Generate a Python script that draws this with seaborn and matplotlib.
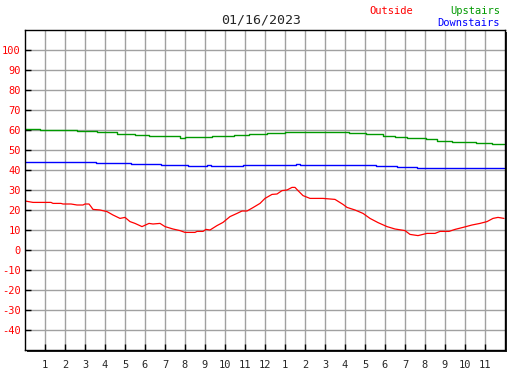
import matplotlib
matplotlib.use("Agg")
import matplotlib.pyplot as plt
from matplotlib.patches import Rectangle
import seaborn as sns

# -----------------------------
# DATA
# -----------------------------
TITLE = "01/16/2023"

out_hours = [0.0, 0.4, 1.3, 1.4, 1.8, 1.9, 2.3, 2.6, 2.9, 3.0, 3.2, 3.3, 3.4, 3.75, 4.1,
             4.4, 4.75, 5.0, 5.25, 5.5, 5.85, 6.2, 6.4, 6.75, 7.0, 7.4, 7.75, 8.0, 8.5, 8.6,
             8.9, 9.05, 9.25, 9.6, 9.9, 10.25, 10.6, 10.85, 11.1, 11.4, 11.75, 12.0, 12.35,
             12.6, 12.85, 13.1, 13.35, 13.5, 13.65, 13.9, 14.25, 14.9, 15.5, 15.9, 16.1,
             16.5, 16.9, 17.25, 17.65, 18.1, 18.5, 19.0, 19.25, 19.65, 20.1, 20.5, 20.75,
             21.2, 21.5, 21.9, 22.35, 22.75, 23.1, 23.4, 23.65, 23.95]
outside = [24.5, 23.8, 23.8, 23.3, 23.3, 23.0, 23.0, 22.5, 22.5, 23.0, 23.0, 21.7, 20.3, 20.0, 19.2,
           17.5, 15.8, 16.3, 14.2, 13.3, 11.7, 13.3, 13.0, 13.3, 11.7, 10.5, 9.7, 8.8, 8.8, 9.3,
           9.3, 10.3, 10.0, 12.2, 13.8, 16.7, 18.3, 19.5, 19.5, 21.2, 23.3, 25.8, 27.8,
           28.0, 29.7, 30.0, 31.3, 31.3, 29.7, 27.2, 25.8, 25.8, 25.3, 22.8, 21.3,
           20.0, 18.3, 15.8, 13.7, 11.7, 10.5, 9.7, 7.8, 7.2, 8.3, 8.3, 9.3,
           9.3, 10.3, 11.3, 12.5, 13.3, 14.2, 15.8, 16.3, 15.8]

up_hours = [0, 0.75, 2.6, 3.6, 4.6, 5.5, 6.2, 6.9, 7.75, 8.0, 9.35, 10.45, 11.2, 12.1,
            13.0, 16.2, 17.05, 17.9, 18.5, 19.1, 20.05, 20.6, 21.35, 22.0, 22.55, 23.35, 23.95]
upstairs = [60.3, 59.8, 59.3, 58.8, 58.2, 57.7, 57.2, 56.8, 56.0, 56.5, 57.0, 57.5, 57.8, 58.3,
            58.8, 58.3, 57.8, 57.2, 56.5, 55.8, 55.3, 54.7, 54.2, 53.8, 53.3, 52.8, 52.8]

down_hours = [0, 3.55, 5.3, 6.8, 8.15, 9.1, 9.3, 10.9, 13.55, 13.75, 17.55, 18.6, 19.6, 23.95]
downstairs = [43.8, 43.3, 42.8, 42.3, 42.0, 42.5, 42.0, 42.5, 43.0, 42.5, 42.0, 41.3, 40.8, 40.8]

x_ticks = list(range(1, 24))
x_labels = [str(h) for h in range(1, 13)] + [str(h) for h in range(1, 12)]
y_ticks = list(range(-40, 101, 10))

# -----------------------------
# FIGURE
# -----------------------------
sns.set_style("white")
plt.rcParams["font.family"] = ["DejaVu Sans Mono"]

W, H = 527, 370
fig = plt.figure(figsize=(W / 100, H / 100), dpi=100)
ax = fig.add_axes([25 / W, 20 / H, 480 / W, 320 / H])

# drop shadow behind the plot frame
fig.add_artist(Rectangle((27 / W, 18 / H), 480 / W, 320 / H, transform=fig.transFigure,
                         facecolor="#202020", edgecolor="none", zorder=-1))
ax.set_facecolor("white")

sns.lineplot(x=out_hours, y=outside, color="#ff0000", lw=0.9, ax=ax, estimator=None, sort=False)
sns.lineplot(x=up_hours, y=upstairs, color="#009900", lw=1.0, ax=ax, estimator=None,
             sort=False, drawstyle="steps-post")
sns.lineplot(x=down_hours, y=downstairs, color="#0000ff", lw=1.0, ax=ax, estimator=None,
             sort=False, drawstyle="steps-post")

ax.set_xlim(0, 24)
ax.set_ylim(-50, 110)
ax.set_xticks(x_ticks)
ax.set_xticklabels(x_labels, fontsize=7.5)
ax.set_yticks(y_ticks)
ax.set_yticklabels([str(v) for v in y_ticks], fontsize=7.5, color="#ff0000")

ax.grid(True, color="#a0a0a0", lw=1)
ax.set_axisbelow(True)
ax.tick_params(axis="both", direction="in", length=4, width=1, color="black")
ax.tick_params(axis="x", pad=7, bottom=True)
ax.tick_params(axis="y", pad=3, left=True)
for s in ax.spines.values():
    s.set_color("black")
    s.set_linewidth(1.0)

fig.text(261 / W, 1 - 20 / H, TITLE, ha="center", va="center", fontsize=9.5)
fig.text(369 / W, 1 - 11 / H, "Outside", ha="left", va="center", fontsize=7.5, color="#ff0000")
fig.text(500 / W, 1 - 11 / H, "Upstairs", ha="right", va="center", fontsize=7.5, color="#009900")
fig.text(500 / W, 1 - 23 / H, "Downstairs", ha="right", va="center", fontsize=7.5, color="#0000ff")

plt.savefig("out.png", dpi=100)
